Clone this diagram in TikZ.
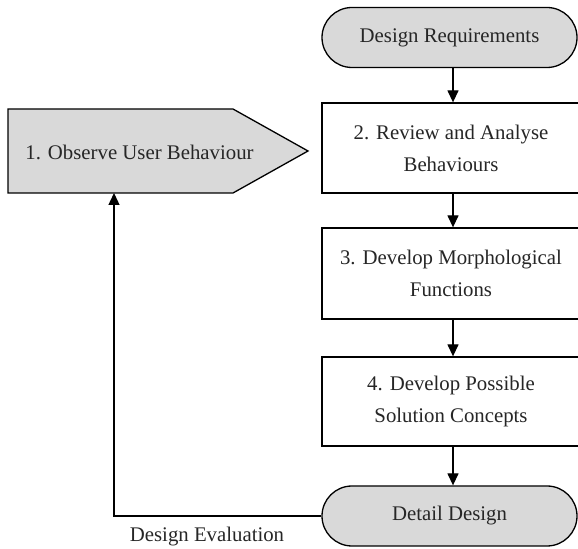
\documentclass[tikz,border=0pt]{standalone}
\usepackage{fontspec}
\setmainfont{Liberation Serif}
\usetikzlibrary{shapes.misc,arrows.meta}
\begin{document}
\begin{tikzpicture}[x=0.5pt,y=-0.5pt,
  every node/.style={font=\fontsize{10.4}{16}\selectfont, text=black!85, align=center},
  ln/.style={line width=0.65pt, draw=black},
  term/.style={ln, rounded rectangle, fill=black!15, minimum width=127.5pt, minimum height=30pt, inner sep=0pt},
  stepbox/.style={ln, rectangle, fill=white, minimum width=129pt, inner sep=0pt},
  arr/.style={line width=0.65pt, -{Triangle[length=6pt,width=5.5pt]}}]
\useasboundingbox (0,0) rectangle (578,549);
% terminals
\node[term] (req) at (449.5,37.5) {Design Requirements};
\node[term] (dd) at (449.5,516) {Detail Design};
% process boxes
\node[stepbox, minimum height=45pt] (r2) at (451,148) {2. Review and Analyse\\Behaviours};
\node[stepbox, minimum height=45.5pt] (r3) at (451,273.5) {3. Develop Morphological\\Functions};
\node[stepbox, minimum height=44.5pt] (r4) at (451,401.5) {4. Develop Possible\\Solution Concepts};
% pentagon
\draw[ln, fill=black!15] (8,109) -- (233,109) -- (308,151) -- (233,193) -- (8,193) -- cycle;
\node (obs) at (139.5,152) {1. Observe User Behaviour};
\coordinate (obsin) at (114,193);
% arrows
\coordinate (ax) at (453,0);
\draw[arr] (req.south -| ax) -- (r2.north -| ax);
\draw[arr] (r2.south -| ax) -- (r3.north -| ax);
\draw[arr] (r3.south -| ax) -- (r4.north -| ax);
\draw[arr] (r4.south -| ax) -- (dd.north -| ax);
\draw[arr] (dd.west) -| (obsin);
\node (eval) at (207,537) {Design Evaluation};
\end{tikzpicture}
\end{document}
